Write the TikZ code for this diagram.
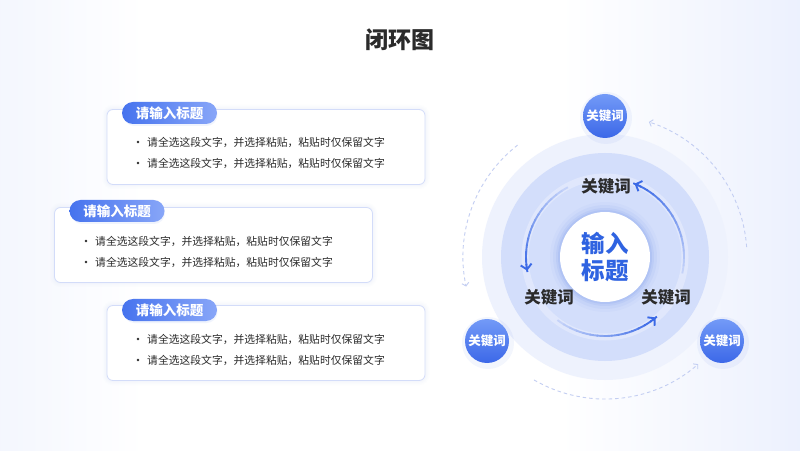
\documentclass[tikz,border=0pt]{standalone}
\usepackage{fontspec}
\setmainfont{Noto Sans CJK SC}
\usetikzlibrary{arrows.meta}
\definecolor{bgblue}{HTML}{D4DEFB}
\definecolor{bgmid}{HTML}{E6ECFD}
\definecolor{tagL}{HTML}{4673EE}
\definecolor{tagR}{HTML}{88A6F8}
\definecolor{arrowc}{HTML}{3A69E6}
\definecolor{midc}{HTML}{D3DEFB}
\definecolor{outc}{HTML}{EEF2FD}
\definecolor{boxb}{HTML}{D3DCF9}
\definecolor{txt}{HTML}{2B2B2B}
\definecolor{ctr}{HTML}{2F63E1}
\definecolor{dashc}{HTML}{C3CEF2}
\definecolor{kwtop}{HTML}{739AF7}
\definecolor{kwbot}{HTML}{3C68E8}
\pgfdeclarehorizontalshading{bgshade}{100bp}{color(0bp)=(bgblue);color(14bp)=(bgmid);color(34bp)=(white);color(60bp)=(white);color(80bp)=(bgmid);color(100bp)=(bgblue)}
\tikzset{
  panel/.style={draw=boxb, line width=0.8pt, fill=white, rounded corners=6pt, minimum width=318pt, minimum height=75pt, inner sep=0pt},
  tagpill/.style={rounded corners=11pt, left color=tagL, right color=tagR, minimum width=95pt, minimum height=22pt, inner sep=0pt, text=white, font=\fontsize{13.5}{15}\selectfont\bfseries},
  bodytext/.style={anchor=west, inner sep=0pt, text=txt, font=\fontsize{10.8}{12}\selectfont},
  kwsmall/.style={circle, minimum size=44pt, inner sep=0pt, top color=kwtop, bottom color=kwbot, text=white, font=\fontsize{12.5}{14}\selectfont\bfseries},
  kwring/.style={inner sep=0pt, text=txt, font=\fontsize{16.5}{18}\selectfont\bfseries},
  dasharc/.style={draw=dashc, line width=0.9pt, dash pattern=on 3.5pt off 3pt, -{Straight Barb[length=3pt,width=7pt]}},
}
\begin{document}
\begin{tikzpicture}[x=1pt,y=1pt]
\useasboundingbox (0,0) rectangle (800,450);
\shade[shading=bgshade] (0,0) rectangle (800,450);
% title
\node[text=txt, font=\fontsize{23}{26}\selectfont\bfseries] (title) at (400,410) {闭环图};
% panels
\foreach \px/\py/\nm in {266/303/p1, 213.5/205/p2, 266/107/p3}{
  \foreach \w/\o in {9/0.05, 6/0.07, 3/0.09}{
    \draw[boxb, line width=\w pt, opacity=\o, rounded corners=6pt] (\px-159,\py-37.5) rectangle (\px+159,\py+37.5);
  }
  \node[panel] (\nm) at (\px,\py) {};
}
% tags
\foreach \tx/\ty/\nm in {169.5/337/t1, 117/239/t2, 169.5/140/t3}{
  \fill[tagL, opacity=0.08, rounded corners=11pt] (\tx-46,\ty-13) rectangle (\tx+48,\ty+9);
  \node[tagpill] (\nm) at (\tx,\ty) {请输入标题};
}
% bullet lines
\foreach \bx/\by in {138/308, 138/287, 86/209, 86/188, 138/111, 138/90}{
  \fill[txt] (\bx,\by) circle (1.3pt);
  \node[bodytext] at (\bx+9,\by) {请全选这段文字，并选择粘贴，粘贴时仅保留文字};
}
% circles
\coordinate (C) at (605,193);
\fill[outc] (C) circle (123);
\fill[midc] (C) circle (104);
\draw[white, opacity=0.3, line width=7pt] (C) circle (80);
\foreach \r/\o in {55/0.03, 52/0.05, 49/0.07, 47/0.09}{
  \fill[arrowc, opacity=\o] (C) circle (\r);
}
\fill[white] (C) circle (45);
\node[align=center, text=ctr, font=\fontsize{23.5}{27}\selectfont\bfseries, inner sep=0pt] (center) at (C) {输入\\标题};
% dashed outer arcs
\draw[dasharc] ([shift={(C)}]4:142) arc[start angle=4, end angle=72, radius=142];
\draw[dasharc] ([shift={(C)}]128:142) arc[start angle=128, end angle=192, radius=142];
\draw[dasharc] ([shift={(C)}]240:142) arc[start angle=240, end angle=311, radius=142];
% small keyword circles
\foreach \kx/\ky/\nm in {605/334/k1, 487/109/k2, 722/109/k3}{
  \fill[arrowc, opacity=0.06] (\kx+1,\ky-2) circle (26);
  \node[kwsmall] (\nm) at (\kx,\ky) {关键词};
}
% inner gradient arcs
\foreach \s/\e in {-12/68, 118/190, 233/310}{
  \foreach \k in {0,...,14}{
    \pgfmathsetmacro\aa{\s+(\e-\s)*\k/15}
    \pgfmathsetmacro\bb{\s+(\e-\s)*(\k+1.2)/15}
    \pgfmathtruncatemacro\pp{10+90*\k/14}
    \draw[arrowc!\pp!midc, line width=1.9pt] ([shift={(C)}]\aa:79) arc[start angle=\aa, end angle=\bb, radius=79];
  }
  \pgfmathsetmacro\cc{\e-3}
  \draw[arrowc, line width=1.9pt, -{Straight Barb[length=5pt,width=11pt]}] ([shift={(C)}]\cc:79) arc[start angle=\cc, end angle=\e, radius=79];
}
% ring keywords
\node[kwring] (r1) at (606,264) {关键词};
\node[kwring] (r2) at (549,153) {关键词};
\node[kwring] (r3) at (666,153) {关键词};
\end{tikzpicture}
\end{document}
